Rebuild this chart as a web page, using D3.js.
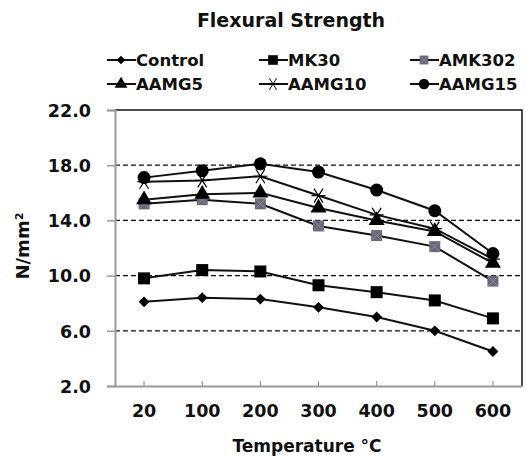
<!DOCTYPE html>
<html>
<head>
<meta charset="utf-8">
<script src="https://cdn.jsdelivr.net/npm/d3@7"></script>
<style>
  body { margin: 0; background: #fff; }
  text { font-family: "DejaVu Sans", Verdana, sans-serif; font-weight: bold; fill: #111; }
</style>
</head>
<body>
<div id="chart"></div>
<script>
"use strict";

// data
var temps = ["20", "100", "200", "300", "400", "500", "600"];
var yTicks = [2, 6, 10, 14, 18, 22];
var seriesNames = ["Control", "MK30", "AMK302", "AAMG5", "AAMG10", "AAMG15"];
var control = [8.1, 8.4, 8.3, 7.7, 7.0, 6.0, 4.5];
var mk30    = [9.8, 10.4, 10.3, 9.3, 8.8, 8.2, 6.9];
var amk302  = [15.2, 15.5, 15.2, 13.6, 12.9, 12.1, 9.6];
var aamg5   = [15.5, 15.9, 16.0, 14.9, 14.0, 13.2, 10.9];
var aamg10  = [16.8, 16.9, 17.2, 15.8, 14.4, 13.4, 11.2];
var aamg15  = [17.1, 17.6, 18.1, 17.5, 16.2, 14.7, 11.6];
var allValues = [control, mk30, amk302, aamg5, aamg10, aamg15];

var W = 531, H = 457;
var margin = { top: 110, right: 9, bottom: 71, left: 115 };
var w = W - margin.left - margin.right,
    h = H - margin.top - margin.bottom;

var svg = d3.select("#chart").append("svg")
  .attr("width", W).attr("height", H);

var g = svg.append("g")
  .attr("transform", "translate(" + margin.left + "," + margin.top + ")");

var x = d3.scaleBand().domain(temps).range([0, w]);
var y = d3.scaleLinear().domain([2, 22]).range([h, 0]);

// dashed grid lines
g.selectAll(".grid").data(yTicks.filter(function(d) { return d > 2 && d < 22; }))
  .enter().append("line")
  .attr("x1", 0).attr("x2", w)
  .attr("y1", function(d) { return y(d); }).attr("y2", function(d) { return y(d); })
  .attr("stroke", "#111").attr("stroke-width", 1.2)
  .attr("stroke-dasharray", "5,3");

// top and right border
g.append("path")
  .attr("d", "M0," + y(22) + "H" + w + "V" + h)
  .attr("fill", "none").attr("stroke", "#111").attr("stroke-width", 1.5);

// y axis
var yAxis = g.append("g")
  .call(d3.axisLeft(y).tickValues(yTicks).tickSize(8).tickPadding(16)
    .tickFormat(d3.format(".1f")));
yAxis.select(".domain").attr("stroke", "#999").attr("stroke-width", 2);
yAxis.selectAll(".tick line").attr("stroke", "#999").attr("stroke-width", 1.5);
yAxis.selectAll(".tick text").style("font-size", "17.5px")
  .attr("font-family", null).attr("fill", "#111").attr("dy", "0.36em");

// x axis
var xAxis = g.append("g")
  .attr("transform", "translate(0," + h + ")")
  .call(d3.axisBottom(x).tickSizeInner(-5).tickSizeOuter(0).tickPadding(19));
xAxis.select(".domain").attr("stroke", "#999").attr("stroke-width", 2);
xAxis.selectAll(".tick line").attr("stroke", "#999").attr("stroke-width", 1.2);
xAxis.selectAll(".tick text").style("font-size", "17.5px")
  .attr("font-family", null).attr("fill", "#111");

// marker drawing
function marker(sel, i) {
  if (i === 0) {
    sel.append("path").attr("d", d3.symbol().type(d3.symbolDiamond2).size(75))
      .attr("fill", "#000");
  } else if (i === 1) {
    sel.append("rect").attr("x", -6).attr("y", -6).attr("width", 12).attr("height", 12)
      .attr("fill", "#000");
  } else if (i === 2) {
    sel.append("rect").attr("x", -5.5).attr("y", -5.5).attr("width", 11).attr("height", 11)
      .attr("fill", "#6a6878");
    sel.append("path").attr("d", "M-5,-5L5,5M-5,5L5,-5")
      .attr("stroke", "#8a8898").attr("stroke-width", 1);
  } else if (i === 3) {
    sel.append("path").attr("d", d3.symbol().type(d3.symbolTriangle).size(110))
      .attr("fill", "#000");
  } else if (i === 4) {
    sel.append("path").attr("d", "M-7,0H7M-4.5,-7L4.5,7M-4.5,7L4.5,-7")
      .attr("stroke", "#000").attr("stroke-width", 1.2);
  } else {
    sel.append("circle").attr("r", 6.5).attr("fill", "#000");
  }
}

var line = d3.line()
  .x(function(d, i) { return x(temps[i]) + x.bandwidth() / 2; })
  .y(function(d) { return y(d); });

allValues.forEach(function(vals, i) {
  g.append("path").datum(vals)
    .attr("d", line)
    .attr("fill", "none").attr("stroke", "#111").attr("stroke-width", 2);
});
allValues.forEach(function(vals, i) {
  vals.forEach(function(v, j) {
    var m = g.append("g")
      .attr("transform", "translate(" + (x(temps[j]) + x.bandwidth() / 2) + "," + y(v) + ")");
    marker(m, i);
  });
});

// title
svg.append("text")
  .attr("x", 291).attr("y", 27)
  .attr("text-anchor", "middle")
  .style("font-size", "19px")
  .text("Flexural Strength");

// legend
var legX = [107, 259, 410], legY = [60, 84];
seriesNames.forEach(function(name, i) {
  var lx = legX[i % 3], ly = legY[Math.floor(i / 3)];
  svg.append("line").attr("x1", lx).attr("x2", lx + 29)
    .attr("y1", ly).attr("y2", ly)
    .attr("stroke", "#111").attr("stroke-width", 2);
  var m = svg.append("g")
    .attr("transform", "translate(" + (lx + 14) + "," + ly + ") scale(0.8)");
  marker(m, i);
  svg.append("text").attr("x", lx + 29).attr("y", ly).attr("dy", "0.36em")
    .style("font-size", "16.5px").text(name);
});

// axis titles
svg.append("text")
  .attr("x", 307).attr("y", 452)
  .attr("text-anchor", "middle")
  .style("font-size", "17px")
  .text("Temperature \u00B0C");

svg.append("text")
  .attr("transform", "translate(29," + 246 + ") rotate(-90)")
  .attr("text-anchor", "middle")
  .style("font-size", "18px")
  .text("N/mm\u00B2");
</script>
</body>
</html>
